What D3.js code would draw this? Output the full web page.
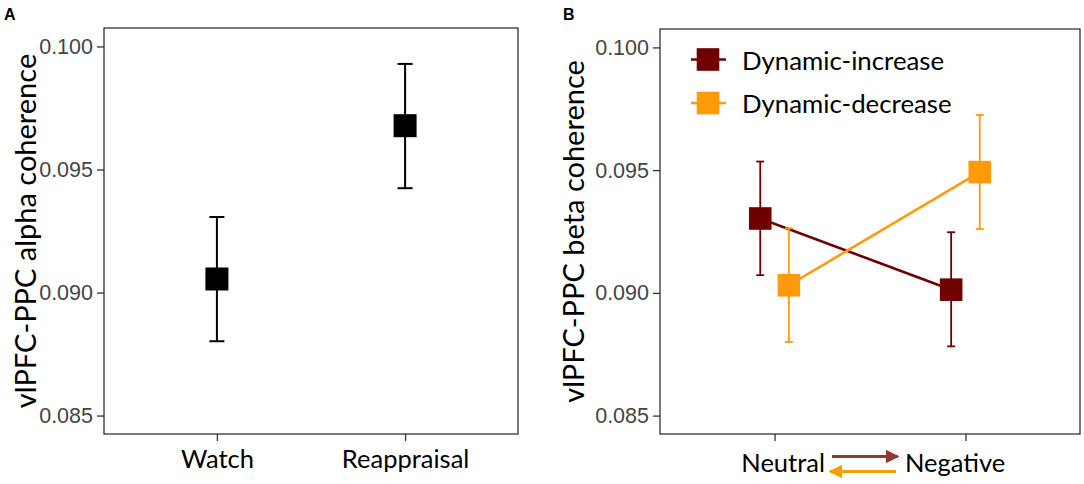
<!DOCTYPE html>
<html><head><meta charset="utf-8">
<script src="https://cdn.jsdelivr.net/npm/d3@7"></script>
<style>body{margin:0;background:#fff}svg{display:block}</style>
</head><body>
<svg id="c" width="1084" height="484"></svg>
<script>
// ---- data ----
const conditionsA = ["Watch", "Reappraisal"];
const meanA  = [0.09055, 0.09678];
const lowerA = [0.08802, 0.09424];
const upperA = [0.09307, 0.09929];

const conditionsB = ["Neutral", "Negative"];
const groupsB = ["Dynamic-increase", "Dynamic-decrease"];
const meanIncrease  = [0.09303, 0.09013];
const lowerIncrease = [0.09072, 0.08782];
const upperIncrease = [0.09535, 0.09247];
const meanDecrease  = [0.09031, 0.09492];
const lowerDecrease = [0.08800, 0.09260];
const upperDecrease = [0.09263, 0.09725];

const yTicks = [0.085, 0.090, 0.095, 0.100];
const yLimits = [0.085, 0.100];

// ---- styling ----
const colors = {"Dynamic-increase": "#700000", "Dynamic-decrease": "#FF9A0A"};
const textFont = "Lato, 'Noto Sans', sans-serif";
const tickFont = "'Liberation Sans', Arial, sans-serif";

const svg = d3.select("#c");
const pad = (yLimits[1] - yLimits[0]) * 0.05;

function panel(box, yTitle, titleX) {
  const g = svg.append("g");
  const y = d3.scaleLinear().domain([yLimits[0] - pad, yLimits[1] + pad]).range([box.bottom, box.top]);
  const yAxis = g.append("g").attr("transform", `translate(${box.left},0)`)
    .call(d3.axisLeft(y).tickValues(yTicks).tickFormat(d3.format(".3f")).tickSize(7).tickPadding(4));
  yAxis.select(".domain").remove();
  yAxis.selectAll(".tick line").attr("stroke", "#333").attr("stroke-width", 1.3);
  yAxis.selectAll(".tick text").attr("fill", "#444").style("font-family", tickFont).style("font-size", "21.5px");
  g.append("text")
    .attr("transform", `translate(${titleX},${(box.top + box.bottom) / 2}) rotate(-90)`)
    .attr("text-anchor", "middle").attr("dominant-baseline", "central")
    .style("font-family", textFont).style("font-size", "29px").attr("fill", "#000")
    .text(yTitle);
  return {g, y};
}

// ---- Panel A ----
const boxA = {left: 104, right: 518, top: 28, bottom: 434};
const pA = panel(boxA, "vlPFC-PPC alpha coherence", 24);
const xA = d3.scalePoint().domain(conditionsA).range([boxA.left, boxA.right]).padding(0.6);
const xAxisA = pA.g.append("g").attr("transform", `translate(0,${boxA.bottom})`)
  .call(d3.axisBottom(xA).tickSize(7).tickPadding(9));
xAxisA.select(".domain").remove();
xAxisA.selectAll(".tick line").attr("stroke", "#333").attr("stroke-width", 1.3);
xAxisA.selectAll(".tick text").attr("fill", "#000").style("font-family", textFont).style("font-size", "25.5px");

const dataA = conditionsA.map((c, i) => ({c, m: meanA[i], lo: lowerA[i], hi: upperA[i]}));
const eA = pA.g.append("g").selectAll("g").data(dataA).join("g");
eA.append("line").attr("x1", d => xA(d.c)).attr("x2", d => xA(d.c))
  .attr("y1", d => pA.y(d.lo)).attr("y2", d => pA.y(d.hi)).attr("stroke", "#000").attr("stroke-width", 2);
["lo", "hi"].forEach(k => {
  eA.append("line").attr("x1", d => xA(d.c) - 7.5).attr("x2", d => xA(d.c) + 7.5)
    .attr("y1", d => pA.y(d[k])).attr("y2", d => pA.y(d[k])).attr("stroke", "#000").attr("stroke-width", 2);
});
eA.append("rect").attr("x", d => xA(d.c) - 11.5).attr("y", d => pA.y(d.m) - 11.5)
  .attr("width", 23).attr("height", 23).attr("fill", "#000");
pA.g.append("rect").attr("x", boxA.left).attr("y", boxA.top)
  .attr("width", boxA.right - boxA.left).attr("height", boxA.bottom - boxA.top)
  .attr("fill", "none").attr("stroke", "#333").attr("stroke-width", 1.3);

// ---- Panel B ----
const boxB = {left: 660, right: 1080, top: 29, bottom: 434};
const pB = panel(boxB, "vlPFC-PPC beta coherence", 572);
const xB = d3.scalePoint().domain(conditionsB).range([boxB.left, boxB.right]).padding(0.6);
const dodge = d3.scaleBand().domain(groupsB).range([-28.6, 28.6]);
const xAxisB = pB.g.append("g").attr("transform", `translate(0,${boxB.bottom})`)
  .call(d3.axisBottom(xB).tickSize(7).tickFormat(""));
xAxisB.select(".domain").remove();
xAxisB.selectAll(".tick line").attr("stroke", "#333").attr("stroke-width", 1.3);

const seriesB = [
  {g: groupsB[0], m: meanIncrease, lo: lowerIncrease, hi: upperIncrease},
  {g: groupsB[1], m: meanDecrease, lo: lowerDecrease, hi: upperDecrease}
];
const px = (grp, c) => xB(c) + dodge(grp) + dodge.bandwidth() / 2;
seriesB.forEach(s => {
  const pts = conditionsB.map((c, i) => ({c, m: s.m[i], lo: s.lo[i], hi: s.hi[i]}));
  const col = colors[s.g];
  const gg = pB.g.append("g");
  gg.append("path").datum(pts)
    .attr("d", d3.line().x(d => px(s.g, d.c)).y(d => pB.y(d.m)))
    .attr("fill", "none").attr("stroke", col).attr("stroke-width", 2.6);
  const e = gg.selectAll("g").data(pts).join("g");
  e.append("line").attr("x1", d => px(s.g, d.c)).attr("x2", d => px(s.g, d.c))
    .attr("y1", d => pB.y(d.lo)).attr("y2", d => pB.y(d.hi)).attr("stroke", col).attr("stroke-width", 1.8);
  ["lo", "hi"].forEach(k => {
    e.append("line").attr("x1", d => px(s.g, d.c) - 4).attr("x2", d => px(s.g, d.c) + 4)
      .attr("y1", d => pB.y(d[k])).attr("y2", d => pB.y(d[k])).attr("stroke", col).attr("stroke-width", 1.8);
  });
  e.append("rect").attr("x", d => px(s.g, d.c) - 11.3).attr("y", d => pB.y(d.m) - 11.3)
    .attr("width", 22.6).attr("height", 22.6).attr("fill", col);
});
pB.g.append("rect").attr("x", boxB.left).attr("y", boxB.top)
  .attr("width", boxB.right - boxB.left).attr("height", boxB.bottom - boxB.top)
  .attr("fill", "none").attr("stroke", "#333").attr("stroke-width", 1.3);

// legend
const leg = pB.g.append("g").selectAll("g").data(groupsB).join("g")
  .attr("transform", (d, i) => `translate(708,${59.5 + i * 43.5})`);
leg.append("line").attr("x1", -17).attr("x2", 18).attr("stroke", d => colors[d]).attr("stroke-width", 2.6);
leg.append("rect").attr("x", -11.3).attr("y", -11.3).attr("width", 22.6).attr("height", 22.6).attr("fill", d => colors[d]);
leg.append("text").attr("x", 34).attr("dominant-baseline", "central")
  .style("font-family", textFont).style("font-size", "25.8px").attr("fill", "#000").text(d => d);

// x labels with arrows
svg.append("defs").selectAll("marker").data([["arrR", "#953735"], ["arrO", "#F5A000"]]).join("marker")
  .attr("id", d => d[0]).attr("viewBox", "0 0 10 10").attr("refX", 9).attr("refY", 5)
  .attr("markerWidth", 4.5).attr("markerHeight", 4.5).attr("orient", "auto")
  .append("path").attr("d", "M0,0 L10,5 L0,10 z").attr("fill", d => d[1]);
pB.g.append("text").attr("x", 825).attr("y", 472).attr("text-anchor", "end")
  .style("font-family", textFont).style("font-size", "25.5px").text(conditionsB[0]);
pB.g.append("text").attr("x", 905).attr("y", 472).attr("text-anchor", "start")
  .style("font-family", textFont).style("font-size", "25.5px").text(conditionsB[1]);
pB.g.append("line").attr("x1", 832).attr("x2", 898).attr("y1", 456.5).attr("y2", 456.5)
  .attr("stroke", "#953735").attr("stroke-width", 3).attr("marker-end", "url(#arrR)");
pB.g.append("line").attr("x1", 896).attr("x2", 830).attr("y1", 471.5).attr("y2", 471.5)
  .attr("stroke", "#F5A000").attr("stroke-width", 3).attr("marker-end", "url(#arrO)");

// panel letters
svg.append("text").attr("x", 4).attr("y", 20).style("font-family", tickFont).style("font-weight", "bold")
  .style("font-size", "16px").text("A");
svg.append("text").attr("x", 563).attr("y", 20).style("font-family", tickFont).style("font-weight", "bold")
  .style("font-size", "16px").text("B");
</script>
</body></html>
